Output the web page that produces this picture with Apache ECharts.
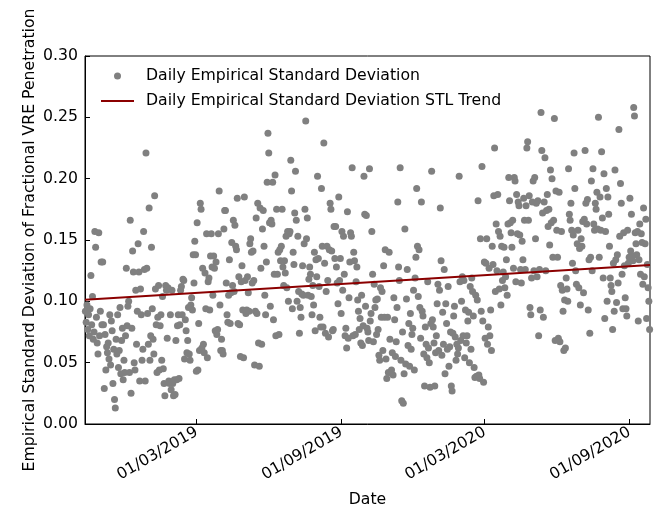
<!DOCTYPE html>
<html><head><meta charset="utf-8">
<script src="https://cdn.jsdelivr.net/npm/echarts@6/dist/echarts.min.js"></script>
<style>html,body{margin:0;padding:0;background:#fff}#c{width:666px;height:513px}</style>
</head><body><div id="c"></div>
<script>
// Daily empirical standard deviation values, grouped by month
const oct2018 = [0.092,0.083,0.097,0.077,0.089,0.072,0.094,0.121,0.081,0.104,0.069,0.075,0.157,0.144,0.087,0.066,0.057,0.156,0.072,0.092,0.132,0.081];
const nov2018 = [0.132,0.081,0.029,0.073,0.044,0.063,0.058,0.066,0.053,0.089,0.048,0.084,0.076,0.033,0.061,0.020,0.013,0.069,0.057,0.089,0.046,0.060,0.095,0.041,0.068,0.078,0.036,0.052,0.042,0.072];
const dec2018 = [0.127,0.080,0.096,0.100,0.042,0.166,0.025,0.078,0.141,0.124,0.050,0.044,0.109,0.065,0.092,0.147,0.124,0.035,0.110,0.089,0.052,0.061,0.157,0.126,0.035,0.221,0.127,0.090,0.065,0.176,0.052];
const jan2019 = [0.072,0.144,0.094,0.069,0.057,0.186,0.110,0.081,0.042,0.087,0.113,0.044,0.080,0.089,0.052,0.104,0.045,0.033,0.023,0.113,0.109,0.070,0.111,0.035,0.033,0.089,0.028,0.109,0.033,0.023,0.036];
const feb2019 = [0.024,0.068,0.036,0.080,0.089,0.037,0.081,0.109,0.112,0.089,0.118,0.117,0.053,0.085,0.076,0.058,0.068,0.095,0.057,0.052,0.097,0.103,0.093,0.138,0.115,0.149,0.138,0.043];
const mar2019 = [0.164,0.044,0.082,0.060,0.180,0.175,0.062,0.127,0.065,0.058,0.123,0.094,0.155,0.054,0.116,0.119,0.093,0.137,0.155,0.128,0.105,0.137,0.127,0.076,0.132,0.073,0.077,0.155,0.190,0.097,0.060];
const apr2019 = [0.069,0.060,0.057,0.159,0.174,0.174,0.115,0.089,0.083,0.105,0.134,0.082,0.107,0.148,0.113,0.166,0.108,0.162,0.145,0.142,0.184,0.082,0.120,0.081,0.055,0.116,0.129,0.093,0.054,0.185];
const may2019 = [0.117,0.090,0.093,0.120,0.107,0.092,0.147,0.151,0.140,0.115,0.141,0.117,0.048,0.092,0.168,0.090,0.180,0.066,0.047,0.176,0.127,0.065,0.159,0.174,0.145,0.105,0.089,0.132,0.197,0.237,0.221];
const jun2019 = [0.164,0.096,0.166,0.163,0.197,0.085,0.122,0.203,0.072,0.175,0.122,0.140,0.073,0.142,0.133,0.145,0.175,0.128,0.113,0.133,0.123,0.153,0.111,0.157,0.100,0.155,0.157,0.215,0.190,0.094];
const jul2019 = [0.140,0.130,0.172,0.206,0.166,0.100,0.153,0.108,0.074,0.095,0.087,0.106,0.129,0.105,0.147,0.175,0.247,0.151,0.168,0.105,0.118,0.128,0.122,0.104,0.089,0.113,0.097,0.140,0.076,0.134,0.120];
const aug2019 = [0.202,0.135,0.112,0.087,0.079,0.192,0.145,0.079,0.229,0.131,0.074,0.108,0.145,0.117,0.071,0.142,0.180,0.175,0.141,0.076,0.077,0.161,0.135,0.161,0.128,0.115,0.098,0.185,0.117,0.135,0.090];
const sep2019 = [0.157,0.109,0.153,0.122,0.072,0.078,0.062,0.173,0.070,0.103,0.132,0.156,0.153,0.209,0.072,0.140,0.133,0.073,0.116,0.128,0.101,0.092,0.077,0.086,0.066,0.105,0.064,0.080,0.202,0.171];
const oct2019 = [0.096,0.170,0.078,0.075,0.068,0.208,0.084,0.090,0.157,0.122,0.067,0.114,0.095,0.101,0.073,0.102,0.077,0.056,0.052,0.111,0.087,0.108,0.060,0.129,0.087,0.142,0.053,0.037,0.087,0.042,0.140];
const nov2019 = [0.069,0.042,0.044,0.058,0.040,0.103,0.085,0.055,0.067,0.095,0.181,0.128,0.117,0.209,0.052,0.019,0.075,0.017,0.041,0.159,0.049,0.102,0.126,0.064,0.082,0.047,0.090,0.061,0.073,0.078];
const dec2019 = [0.109,0.044,0.119,0.136,0.192,0.145,0.104,0.142,0.095,0.070,0.181,0.092,0.088,0.057,0.031,0.079,0.065,0.054,0.116,0.062,0.050,0.030,0.082,0.206,0.085,0.079,0.066,0.031,0.058,0.072,0.098];
const jan2020 = [0.114,0.060,0.109,0.176,0.133,0.056,0.091,0.065,0.126,0.041,0.098,0.082,0.061,0.112,0.047,0.063,0.075,0.031,0.027,0.074,0.088,0.096,0.071,0.052,0.065,0.057,0.062,0.202,0.116,0.068,0.100];
const feb2020 = [0.120,0.072,0.117,0.054,0.093,0.066,0.072,0.084,0.091,0.050,0.112,0.061,0.119,0.108,0.088,0.046,0.038,0.105,0.039,0.101,0.182,0.040,0.037,0.151,0.092,0.210,0.084,0.034,0.132];
const mar2020 = [0.070,0.131,0.151,0.065,0.079,0.127,0.072,0.093,0.060,0.145,0.130,0.186,0.225,0.108,0.163,0.125,0.187,0.157,0.110,0.153,0.097,0.145,0.117,0.124,0.144,0.111,0.120,0.134,0.105,0.163,0.201];
const apr2020 = [0.182,0.164,0.156,0.144,0.166,0.127,0.201,0.198,0.116,0.187,0.155,0.181,0.178,0.154,0.126,0.115,0.149,0.134,0.184,0.166,0.126,0.178,0.225,0.230,0.166,0.186,0.095,0.089,0.119,0.181];
const may2020 = [0.198,0.125,0.201,0.151,0.180,0.120,0.182,0.072,0.126,0.093,0.254,0.223,0.172,0.087,0.181,0.217,0.125,0.174,0.187,0.161,0.175,0.146,0.207,0.164,0.200,0.136,0.166,0.249,0.068,0.190,0.158];
const jun2020 = [0.136,0.070,0.189,0.067,0.113,0.157,0.109,0.092,0.060,0.101,0.062,0.119,0.110,0.100,0.208,0.171,0.166,0.180,0.158,0.131,0.154,0.221,0.192,0.125,0.114,0.147,0.158,0.111,0.143,0.097];
const jul2020 = [0.151,0.145,0.165,0.107,0.167,0.223,0.180,0.163,0.183,0.093,0.134,0.074,0.136,0.198,0.125,0.208,0.163,0.158,0.180,0.175,0.189,0.159,0.250,0.136,0.185,0.158,0.222,0.168,0.119,0.204,0.086];
const aug2020 = [0.157,0.192,0.100,0.185,0.171,0.145,0.119,0.113,0.108,0.077,0.131,0.092,0.207,0.134,0.099,0.138,0.115,0.240,0.153,0.196,0.180,0.122,0.094,0.156,0.129,0.103,0.094,0.088,0.158,0.131,0.136];
const sep2020 = [0.184,0.141,0.171,0.137,0.133,0.258,0.251,0.156,0.147,0.138,0.157,0.084,0.134,0.163,0.122,0.155,0.148,0.114,0.176,0.120,0.147,0.167,0.086,0.130,0.111,0.100,0.077];

const monthStarts = ['2018-10-10','2018-11-01','2018-12-01','2019-01-01','2019-02-01','2019-03-01','2019-04-01','2019-05-01','2019-06-01','2019-07-01','2019-08-01','2019-09-01','2019-10-01','2019-11-01','2019-12-01','2020-01-01','2020-02-01','2020-03-01','2020-04-01','2020-05-01','2020-06-01','2020-07-01','2020-08-01','2020-09-01','2020-09-27'];
const monthValues = [oct2018,nov2018,dec2018,jan2019,feb2019,mar2019,apr2019,may2019,jun2019,jul2019,aug2019,sep2019,oct2019,nov2019,dec2019,jan2020,feb2020,mar2020,apr2020,may2020,jun2020,jul2020,aug2020,sep2020];

const xRange = ['2018-10-10','2020-09-27'];
const xTickDates = ['2019-03-01','2019-09-01','2020-03-01','2020-09-01'];
const yTicks = [0, 0.05, 0.10, 0.15, 0.20, 0.25, 0.30];
const trendDates = ['2018-10-10','2020-09-27'];
const trendValues = [0.1013, 0.1296];

function ts(s){ const p = s.split('-').map(Number); return Date.UTC(p[0], p[1]-1, p[2]); }
const scatterData = [];
monthValues.forEach((vals, m) => {
  const a = ts(monthStarts[m]), b = ts(monthStarts[m+1]);
  const step = (b - a) / vals.length;
  vals.forEach((v, i) => scatterData.push([a + (i + 0.5) * step, v]));
});
const trendData = trendDates.map((d, i) => [ts(d), trendValues[i]]);
const tickTs = xTickDates.map(ts);
const pad = n => (n < 10 ? '0' : '') + n;
const FONT = 'DejaVu Sans';
const FS = 15.7;

const chart = echarts.init(document.getElementById('c'), null, {renderer: 'canvas'});
chart.setOption({
  animation: false,
  backgroundColor: '#fff',
  textStyle: {fontFamily: FONT},
  grid: {left: 85, right: 16, top: 56, bottom: 86, show: true, borderColor: '#000', borderWidth: 1, backgroundColor: 'transparent'},
  legend: {
    orient: 'vertical', left: 100, top: 68, padding: 0, itemGap: 9,
    itemWidth: 33, itemHeight: 7,
    textStyle: {fontFamily: FONT, fontSize: FS, color: '#000', padding: [0, 0, 0, 7]},
    data: [
      {name: 'Daily Empirical Standard Deviation', icon: 'circle'},
      {name: 'Daily Empirical Standard Deviation STL Trend', itemStyle: {opacity: 0}}
    ]
  },
  xAxis: {
    type: 'value', min: ts(xRange[0]), max: ts(xRange[1]), scale: true,
    name: 'Date', nameLocation: 'middle', nameGap: 68, nameMoveOverlap: false,
    nameTextStyle: {fontFamily: FONT, fontSize: FS, color: '#000'},
    axisLine: {show: true, onZero: false, lineStyle: {color: '#000', width: 1}},
    axisTick: {show: true, inside: true, length: 5, lineStyle: {color: '#000'}, customValues: tickTs},
    axisLabel: {
      customValues: tickTs, rotate: 30, margin: 7, fontFamily: FONT, fontSize: FS, color: '#000',
      formatter: v => { const d = new Date(v); return pad(d.getUTCDate()) + '/' + pad(d.getUTCMonth()+1) + '/' + d.getUTCFullYear(); }
    },
    splitLine: {show: false}
  },
  yAxis: {
    type: 'value', min: yTicks[0], max: yTicks[yTicks.length-1], interval: 0.05,
    name: 'Empirical Standard Deviation of Fractional VRE Penetration',
    nameLocation: 'middle', nameGap: 47, nameMoveOverlap: false,
    nameTextStyle: {fontFamily: FONT, fontSize: FS, color: '#000'},
    axisLine: {show: true, lineStyle: {color: '#000', width: 1}},
    axisTick: {show: true, inside: true, length: 5, lineStyle: {color: '#000'}},
    axisLabel: {fontFamily: FONT, fontSize: FS, color: '#000', margin: 7, formatter: v => v.toFixed(2)},
    splitLine: {show: false}
  },
  series: [
    {name: 'Daily Empirical Standard Deviation', type: 'scatter', data: scatterData, symbolSize: 7,
     itemStyle: {color: '#808080', opacity: 1}, z: 2},
    {name: 'Daily Empirical Standard Deviation STL Trend', type: 'line', data: trendData, showSymbol: false,
     symbol: 'none', lineStyle: {color: '#8b0000', width: 2}, itemStyle: {color: '#8b0000'}, z: 3}
  ]
});
</script></body></html>
